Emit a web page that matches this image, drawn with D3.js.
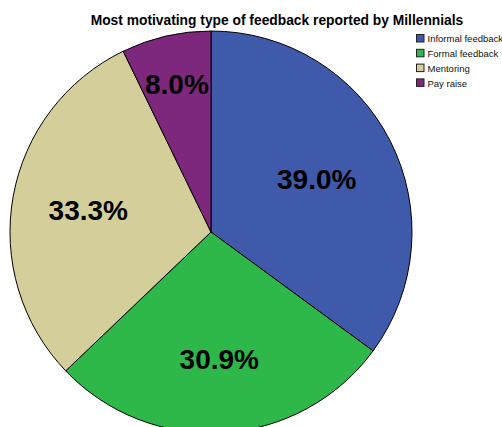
<!DOCTYPE html>
<html>
<head>
<meta charset="utf-8">
<script src="https://cdn.jsdelivr.net/npm/d3@7/dist/d3.min.js"></script>
<style>
  html, body { margin: 0; padding: 0; background: #fff; }
  svg { display: block; }
</style>
</head>
<body>
<svg id="chart" width="502" height="427"></svg>
<script>
// Feedback categories and the share reported for each (percent)
const categories = ["Informal feedback", "Formal feedback", "Mentoring", "Pay raise"];
const percents = [39.0, 30.9, 33.3, 8.0];
const colors = ["#3f59ab", "#2eb84a", "#d4ce9a", "#7d287d"];
const title = "Most motivating type of feedback reported by Millennials";

const width = 502, height = 427;
const cx = 211, cy = 232, radius = 201;

const svg = d3.select("#chart");

// Title
svg.append("text")
  .attr("x", 277)
  .attr("y", 24.5)
  .attr("text-anchor", "middle")
  .attr("font-family", "Arial, 'Liberation Sans', sans-serif")
  .attr("font-weight", "bold")
  .attr("font-size", 13.8)
  .attr("fill", "#000")
  .text(title);

const data = categories.map((c, i) => ({ name: c, value: percents[i], color: colors[i] }));

const pie = d3.pie().value(d => d.value).sort(null);
const arcs = pie(data);

const arc = d3.arc().innerRadius(0).outerRadius(radius);

// Narrow slices get their label pushed further out toward the rim
function labelPos(d) {
  const span = d.endAngle - d.startAngle;
  const r = radius * (0.5 + 0.3 * Math.max(0, 1 - span / Math.PI));
  const a = (d.startAngle + d.endAngle) / 2;
  return [Math.sin(a) * r, -Math.cos(a) * r];
}

const g = svg.append("g").attr("transform", `translate(${cx},${cy})`);

g.selectAll("path.slice")
  .data(arcs)
  .join("path")
  .attr("class", "slice")
  .attr("d", arc)
  .attr("fill", d => d.data.color)
  .attr("stroke", "#000")
  .attr("stroke-width", 1)
  .attr("stroke-linejoin", "round");

g.selectAll("text.pct")
  .data(arcs)
  .join("text")
  .attr("class", "pct")
  .attr("transform", d => `translate(${labelPos(d)})`)
  .attr("text-anchor", "middle")
  .attr("dy", "0.36em")
  .attr("font-family", "Arial, 'Liberation Sans', sans-serif")
  .attr("font-weight", "bold")
  .attr("font-size", 28)
  .attr("fill", "#000")
  .text(d => d3.format(".1f")(d.data.value) + "%");

// Legend
const legend = svg.append("g").attr("transform", "translate(416,34)");
const rows = legend.selectAll("g.row")
  .data(data)
  .join("g")
  .attr("class", "row")
  .attr("transform", (d, i) => `translate(0,${i * 14.8})`);

rows.append("rect")
  .attr("x", 0.5)
  .attr("y", 0.5)
  .attr("width", 7.5)
  .attr("height", 7.5)
  .attr("fill", d => d.color)
  .attr("stroke", "#222")
  .attr("stroke-width", 1);

rows.append("text")
  .attr("x", 11.5)
  .attr("y", 8.3)
  .attr("font-family", "Arial, 'Liberation Sans', sans-serif")
  .attr("font-size", 9.5)
  .attr("fill", "#111")
  .text(d => d.name);
</script>
</body>
</html>
